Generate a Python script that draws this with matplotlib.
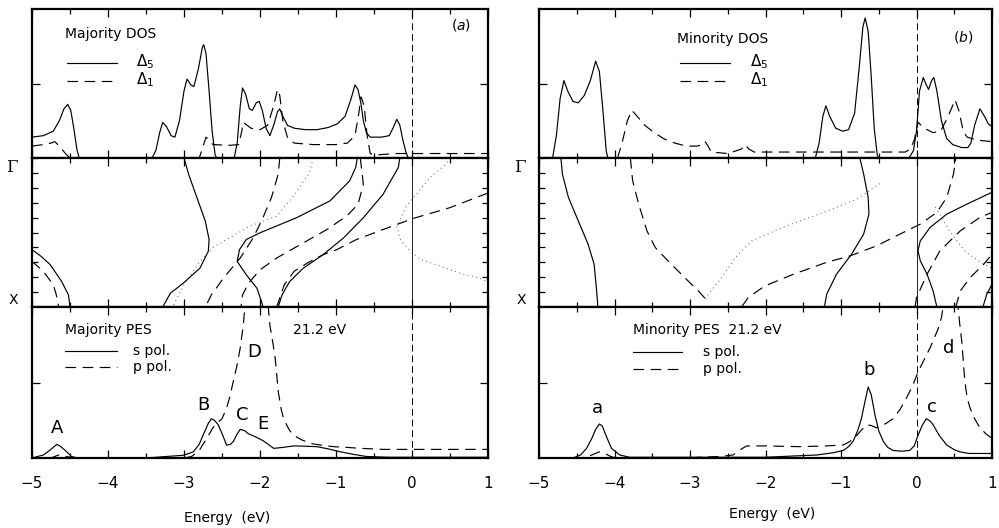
import matplotlib
matplotlib.use('Agg')
import matplotlib.pyplot as plt
from matplotlib.ticker import MultipleLocator

plt.rcParams['font.family'] = ['DejaVu Sans']
plt.rcParams['mathtext.fontset'] = 'dejavusans'

# ---------------- majority DOS (a) ----------------
maj_d5_e = [-5.00, -4.85, -4.72, -4.64, -4.58, -4.53, -4.49, -4.45, -4.41, -4.38, -3.42, -3.37, -3.32,
            -3.28, -3.23, -3.17, -3.12, -3.06, -3.00, -2.96, -2.91, -2.87, -2.81, -2.76, -2.74, -2.71,
            -2.67, -2.63, -2.59, -2.57, -2.34, -2.30, -2.26, -2.23, -2.19, -2.14, -2.10, -2.05, -2.01,
            -1.97, -1.92, -1.87, -1.82, -1.77, -1.74, -1.70, -1.64, -1.55, -1.40, -1.25, -1.10, -0.98,
            -0.88, -0.80, -0.75, -0.71, -0.67, -0.64, -0.60, -0.55, -0.40, -0.30, -0.25, -0.20, -0.16,
            -0.12, -0.08, -0.05, 1.00]
maj_d5_v = [0.14, 0.15, 0.18, 0.25, 0.33, 0.36, 0.32, 0.20, 0.06, 0.0, 0.0, 0.05, 0.17,
            0.24, 0.21, 0.15, 0.14, 0.25, 0.45, 0.53, 0.49, 0.48, 0.60, 0.74, 0.76, 0.70,
            0.45, 0.18, 0.02, 0.0, 0.0, 0.10, 0.35, 0.47, 0.43, 0.33, 0.32, 0.37, 0.38,
            0.32, 0.20, 0.15, 0.22, 0.31, 0.33, 0.28, 0.22, 0.20, 0.19, 0.19, 0.205, 0.23,
            0.28, 0.40, 0.49, 0.46, 0.36, 0.25, 0.17, 0.14, 0.14, 0.15, 0.20, 0.26, 0.22,
            0.12, 0.04, 0.0, 0.0]
maj_d1_e = [-5.00, -4.85, -4.75, -4.70, -4.64, -4.56, -4.50, -2.80, -2.76, -2.71, -2.67, -2.62, -2.40,
            -2.28, -2.24, -2.22, -2.12, -2.00, -1.90, -1.82, -1.77, -1.74, -1.70, -1.64, -1.55, -1.30,
            -1.00, -0.85, -0.75, -0.70, -0.67, -0.63, -0.59, -0.55, -0.50, -0.20, 1.00]
maj_d1_v = [0.08, 0.09, 0.10, 0.11, 0.08, 0.03, 0.0, 0.0, 0.06, 0.14, 0.12, 0.09, 0.085,
            0.09, 0.18, 0.24, 0.20, 0.19, 0.22, 0.35, 0.46, 0.42, 0.25, 0.14, 0.10, 0.09,
            0.09, 0.10, 0.15, 0.30, 0.41, 0.35, 0.15, 0.03, 0.02, 0.03, 0.03]

# ---------------- minority DOS (b) ----------------
min_d5_e = [-5.00, -4.82, -4.77, -4.72, -4.67, -4.62, -4.55, -4.48, -4.40, -4.32, -4.25, -4.20, -4.15,
            -4.11, -4.09, -1.34, -1.29, -1.24, -1.20, -1.15, -1.07, -0.98, -0.90, -0.82, -0.76, -0.71,
            -0.68, -0.64, -0.60, -0.56, -0.52, -0.50, -0.10, -0.04, 0.00, 0.04, 0.09, 0.13, 0.16,
            0.20, 0.23, 0.27, 0.33, 0.40, 0.48, 0.60, 0.68, 0.72, 0.77, 0.84, 0.90, 0.95, 1.00]
min_d5_v = [0.0, 0.0, 0.15, 0.40, 0.52, 0.45, 0.38, 0.37, 0.42, 0.52, 0.65, 0.58, 0.30,
            0.05, 0.0, 0.0, 0.10, 0.28, 0.35, 0.28, 0.20, 0.18, 0.19, 0.30, 0.60, 0.88,
            0.94, 0.85, 0.55, 0.20, 0.02, 0.0, 0.0, 0.05, 0.18, 0.45, 0.54, 0.49, 0.46,
            0.52, 0.54, 0.45, 0.25, 0.13, 0.09, 0.07, 0.07, 0.10, 0.22, 0.33, 0.28, 0.23, 0.21]
min_d1_e = [-3.96, -3.90, -3.83, -3.77, -3.70, -3.60, -3.50, -3.35, -3.20, -3.05, -2.90, -2.84, -2.80,
            -2.76, -2.72, -2.50, -2.32, -2.27, -2.22, -2.15, -0.15, -0.08, -0.03, 0.00, 0.02, 0.06,
            0.14, 0.22, 0.32, 0.42, 0.51, 0.56, 0.62, 0.67, 0.80, 1.00]
min_d1_v = [0.0, 0.10, 0.25, 0.32, 0.28, 0.22, 0.18, 0.13, 0.10, 0.08, 0.08, 0.09, 0.11,
            0.08, 0.04, 0.03, 0.06, 0.09, 0.06, 0.04, 0.04, 0.06, 0.12, 0.19, 0.24, 0.22,
            0.19, 0.17, 0.18, 0.28, 0.39, 0.32, 0.18, 0.14, 0.12, 0.11]

# ---------------- majority bands (k: 0 = Gamma, 1 = X) ----------------
maj_s1_e = [-3.00, -2.94, -2.83, -2.72, -2.67, -2.68, -2.79, -3.01, -3.18, -3.28]
maj_s1_k = [0.0, 0.108, 0.266, 0.423, 0.547, 0.626, 0.739, 0.840, 0.908, 1.0]
maj_b1_e = [-1.74, -1.76, -1.85, -1.98, -2.09, -2.26, -2.48, -2.64, -2.72]
maj_b1_k = [0.0, 0.108, 0.266, 0.423, 0.536, 0.671, 0.806, 0.919, 1.0]
maj_s2_e = [-0.72, -0.74, -0.82, -1.08, -1.52, -2.00, -2.18, -2.27, -2.30, -2.18, -2.04, -1.98, -1.96]
maj_s2_k = [0.0, 0.063, 0.153, 0.288, 0.401, 0.502, 0.547, 0.615, 0.694, 0.784, 0.874, 0.964, 1.0]
maj_b2_e = [-0.68, -0.64, -0.71, -0.86, -1.12, -1.47, -1.78, -2.00, -2.15, -2.23, -2.25]
maj_b2_k = [0.0, 0.176, 0.311, 0.390, 0.480, 0.581, 0.671, 0.750, 0.840, 0.919, 1.0]
maj_s3_e = [-0.16, -0.18, -0.38, -0.64, -0.90, -1.17, -1.43, -1.61, -1.71, -1.76]
maj_s3_k = [0.0, 0.063, 0.243, 0.401, 0.536, 0.649, 0.739, 0.829, 0.919, 1.0]
maj_b3_e = [1.00, 0.50, 0.02, -0.38, -0.73, -0.99, -1.17, -1.36, -1.55, -1.68, -1.74, -1.78]
maj_b3_k = [0.235, 0.333, 0.405, 0.480, 0.547, 0.615, 0.649, 0.700, 0.760, 0.850, 0.940, 1.0]
maj_s4_e = [-5.00, -4.88, -4.76, -4.61, -4.52, -4.50]
maj_s4_k = [0.615, 0.660, 0.716, 0.829, 0.919, 1.0]
maj_b4_e = [-5.00, -4.85, -4.72, -4.68, -4.65]
maj_b4_k = [0.694, 0.761, 0.851, 0.919, 1.0]
maj_p1_e = [-1.30, -1.35, -1.55, -1.78, -2.13, -2.44, -2.62, -2.80, -3.00, -3.15]
maj_p1_k = [0.0, 0.10, 0.25, 0.39, 0.457, 0.547, 0.60, 0.70, 0.85, 1.0]
maj_p2_e = [0.50, 0.43, 0.24, 0.11, -0.07, -0.20, -0.15, -0.05, 0.11, 0.37, 0.67, 0.85, 1.00]
maj_p2_k = [0.0, 0.05, 0.13, 0.21, 0.32, 0.46, 0.55, 0.61, 0.68, 0.725, 0.78, 0.80, 0.83]

# ---------------- minority bands ----------------
min_s1_e = [-4.71, -4.69, -4.61, -4.48, -4.35, -4.27, -4.24, -4.22]
min_s1_k = [0.0, 0.108, 0.265, 0.422, 0.578, 0.713, 0.870, 1.0]
min_b1_e = [-3.79, -3.76, -3.68, -3.57, -3.46, -3.29, -3.07, -2.89, -2.79]
min_b1_k = [0.0, 0.152, 0.309, 0.489, 0.601, 0.691, 0.803, 0.892, 0.948]
min_p1_e = [-2.79, -2.76, -2.58, -2.40, -2.18, -1.72, -1.41, -1.06, -0.79, -0.48]
min_p1_k = [0.948, 0.915, 0.803, 0.668, 0.556, 0.455, 0.399, 0.332, 0.276, 0.17]
min_b2_e = [-2.31, -2.23, -2.01, -1.63, -1.19, -0.88, -0.53, -0.22, 0.05, 0.27, 0.40, 0.49, 0.52]
min_b2_k = [0.995, 0.937, 0.859, 0.78, 0.70, 0.657, 0.59, 0.511, 0.444, 0.365, 0.265, 0.108, 0.0]
min_s2_e = [-0.75, -0.70, -0.64, -0.63, -0.70, -0.86, -1.06, -1.19, -1.22]
min_s2_k = [0.0, 0.108, 0.265, 0.377, 0.511, 0.646, 0.78, 0.915, 1.0]
min_s3_e = [1.00, 0.67, 0.40, 0.18, 0.05, 0.02, 0.05, 0.14, 0.22, 0.27]
min_s3_k = [0.23, 0.309, 0.377, 0.466, 0.556, 0.623, 0.69, 0.78, 0.892, 1.0]
min_b3_e = [-0.02, 0.00, 0.14, 0.31, 0.58, 0.84, 1.00]
min_b3_k = [1.0, 0.937, 0.78, 0.623, 0.489, 0.399, 0.365]
min_b4_e = [0.52, 0.58, 0.71, 0.89, 1.00]
min_b4_k = [1.0, 0.892, 0.803, 0.713, 0.646]
min_s4_e = [0.88, 0.93, 1.00]
min_s4_k = [1.0, 0.915, 0.848]
min_p2_e = [0.25, 0.45, 0.65, 0.85, 1.00]
min_p2_k = [0.33, 0.50, 0.63, 0.70, 0.74]

# ---------------- majority PES ----------------
maj_s_e = [-5.0, -4.85, -4.76, -4.70, -4.67, -4.62, -4.57, -4.48, -4.40, -3.5, -3.23, -3.01, -2.88, -2.80,
           -2.75, -2.68, -2.64, -2.60, -2.55, -2.49, -2.44, -2.39, -2.35, -2.30, -2.26, -2.20, -2.15, -2.08,
           -2.02, -1.96, -1.91, -1.82, -1.70, -1.56, -1.40, -1.25, -1.10, -0.95, -0.78, -0.60, -0.30, 1.0]
maj_s_v = [0.0, 0.02, 0.053, 0.08, 0.09, 0.075, 0.053, 0.01, 0.0, 0.0, 0.01, 0.018, 0.04, 0.09,
           0.15, 0.23, 0.26, 0.25, 0.22, 0.15, 0.085, 0.09, 0.11, 0.16, 0.19, 0.18, 0.16, 0.145,
           0.13, 0.115, 0.097, 0.064, 0.07, 0.08, 0.078, 0.075, 0.06, 0.042, 0.025, 0.01, 0.005, 0.005]
maj_p_e = [-5.0, -4.75, -4.65, -4.55, -4.45, -3.0, -2.90, -2.80, -2.70, -2.62, -2.57, -2.50, -2.44, -2.40,
           -2.35, -2.30, -2.26, -2.22, -2.19, -1.90, -1.87, -1.83, -1.80, -1.76, -1.72, -1.69, -1.62, -1.56,
           -1.45, -1.34, -1.20, -1.03, -0.85, -0.68, -0.38, 0.0, 1.0]
maj_p_v = [0.0, 0.0, 0.02, 0.01, 0.0, 0.0, 0.01, 0.05, 0.13, 0.20, 0.23, 0.26, 0.33, 0.40,
           0.51, 0.62, 0.73, 0.88, 1.05, 1.05, 0.88, 0.76, 0.66, 0.44, 0.32, 0.26, 0.19, 0.15,
           0.12, 0.097, 0.085, 0.075, 0.07, 0.064, 0.057, 0.057, 0.057]

# ---------------- minority PES ----------------
min_s_e = [-5.0, -4.55, -4.45, -4.37, -4.30, -4.25, -4.20, -4.16, -4.13, -4.08, -4.04, -3.93, -3.80, -2.0,
           -1.32, -1.10, -0.97, -0.90, -0.84, -0.78, -0.73, -0.68, -0.64, -0.60, -0.55, -0.50, -0.44, -0.38,
           -0.31, -0.20, -0.09, -0.03, 0.02, 0.08, 0.13, 0.18, 0.22, 0.30, 0.40, 0.50, 0.58, 0.70, 0.84, 1.0]
min_s_v = [0.0, 0.0, 0.02, 0.064, 0.13, 0.19, 0.225, 0.21, 0.17, 0.11, 0.064, 0.02, 0.005, 0.005,
           0.02, 0.035, 0.05, 0.075, 0.11, 0.18, 0.26, 0.38, 0.47, 0.42, 0.285, 0.18, 0.11, 0.07,
           0.05, 0.045, 0.05, 0.08, 0.15, 0.22, 0.26, 0.245, 0.22, 0.15, 0.086, 0.055, 0.04, 0.03, 0.03, 0.03]
min_p_e = [-5.0, -4.45, -4.35, -4.25, -4.21, -4.15, -4.05, -3.98, -3.0, -2.87, -2.60, -2.43, -2.35, -2.25,
           -2.0, -1.54, -1.20, -0.97, -0.88, -0.79, -0.72, -0.66, -0.60, -0.53, -0.48, -0.40, -0.31, -0.22,
           -0.13, -0.05, 0.02, 0.10, 0.18, 0.24, 0.29, 0.33, 0.37, 0.54, 0.57, 0.60, 0.64, 0.67, 0.71,
           0.77, 0.84, 0.92, 1.0]
min_p_v = [0.0, 0.0, 0.01, 0.03, 0.04, 0.035, 0.01, 0.0, 0.0, 0.005, 0.01, 0.02, 0.05, 0.08,
           0.08, 0.075, 0.08, 0.086, 0.11, 0.15, 0.19, 0.22, 0.215, 0.20, 0.21, 0.23, 0.26, 0.32,
           0.40, 0.48, 0.57, 0.65, 0.73, 0.80, 0.86, 0.93, 1.05, 1.05, 0.90, 0.77, 0.51, 0.40, 0.33,
           0.26, 0.20, 0.16, 0.13]

LW = 0.85
DASH = (9, 5.5)
DOT = (0, (1, 3.5))


def solid(ax, x, y):
    ax.plot(x, y, color='black', lw=LW)


def dashed(ax, x, y):
    ax.plot(x, y, color='black', lw=LW, dashes=DASH)


def dotted(ax, x, y):
    ax.plot(x, y, color='#555555', lw=0.7, linestyle=DOT)


def frame(ax, band=False):
    ax.set_xlim(-5, 1)
    ax.xaxis.set_major_locator(MultipleLocator(1))
    ax.xaxis.set_minor_locator(MultipleLocator(0.5))
    if band:
        ax.set_ylim(1, 0)
        ax.yaxis.set_major_locator(MultipleLocator(0.1))
        ax.yaxis.set_minor_locator(MultipleLocator(0.1))
    else:
        ax.set_ylim(0, 1)
        ax.set_yticks([0.5])
    ax.tick_params(which='both', direction='in', top=True, right=True,
                   labelbottom=False, labelleft=False, width=0.9)
    ax.tick_params(which='major', length=6)
    ax.tick_params(which='minor', length=3.5)
    if band:
        ax.tick_params(axis='y', which='major', length=4)
    for s in ax.spines.values():
        s.set_linewidth(1.6)


fig = plt.figure(figsize=(9.99, 5.28), dpi=100)

cols = [(32 / 999, 456 / 999), (539 / 999, 453 / 999)]
rows = [(1 - 158 / 528, 149 / 528), (1 - 307 / 528, 149 / 528), (1 - 458 / 528, 151 / 528)]

axes = []
for x0, w in cols:
    col = []
    for y0, h in rows:
        col.append(fig.add_axes([x0, y0, w, h]))
    axes.append(col)

(aD, aB, aP), (bD, bB, bP) = axes
for ax in (aD, aP, bD, bP):
    frame(ax)
for ax in (aB, bB):
    frame(ax, band=True)

# Fermi level
for ax in (aD, aP, bD, bP):
    ax.axvline(0, color='black', lw=0.7, dashes=(7, 4))
for ax in (aB, bB):
    ax.axvline(0, color='black', lw=0.6)

# ---- DOS panels
solid(aD, maj_d5_e, maj_d5_v)
dashed(aD, maj_d1_e, maj_d1_v)
solid(bD, min_d5_e, min_d5_v)
dashed(bD, min_d1_e, min_d1_v)

fs = 10
dfs = 11
aD.text(-4.57, 0.83, 'Majority DOS', fontsize=fs, va='center')
aD.plot([-4.54, -3.88], [0.64, 0.64], color='black', lw=LW)
aD.plot([-4.54, -3.88], [0.52, 0.52], color='black', lw=LW, dashes=DASH)
aD.text(-3.63, 0.615, r'$\Delta_5$', fontsize=dfs, va='baseline')
aD.text(-3.63, 0.495, r'$\Delta_1$', fontsize=dfs, va='baseline')
aD.text(0.78, 0.89, '($a$)', fontsize=fs, va='center', ha='right')

bD.text(-3.17, 0.80, 'Minority DOS', fontsize=fs, va='center')
bD.plot([-3.13, -2.47], [0.64, 0.64], color='black', lw=LW)
bD.plot([-3.13, -2.47], [0.52, 0.52], color='black', lw=LW, dashes=DASH)
bD.text(-2.21, 0.615, r'$\Delta_5$', fontsize=dfs, va='baseline')
bD.text(-2.21, 0.495, r'$\Delta_1$', fontsize=dfs, va='baseline')
bD.text(0.75, 0.81, '($b$)', fontsize=fs, va='center', ha='right')

# ---- band panels
for e, k in [(maj_s1_e, maj_s1_k), (maj_s2_e, maj_s2_k), (maj_s3_e, maj_s3_k), (maj_s4_e, maj_s4_k)]:
    solid(aB, e, k)
for e, k in [(maj_b1_e, maj_b1_k), (maj_b2_e, maj_b2_k), (maj_b3_e, maj_b3_k), (maj_b4_e, maj_b4_k)]:
    dashed(aB, e, k)
for e, k in [(maj_p1_e, maj_p1_k), (maj_p2_e, maj_p2_k)]:
    dotted(aB, e, k)

for e, k in [(min_s1_e, min_s1_k), (min_s2_e, min_s2_k), (min_s3_e, min_s3_k), (min_s4_e, min_s4_k)]:
    solid(bB, e, k)
for e, k in [(min_b1_e, min_b1_k), (min_b2_e, min_b2_k), (min_b3_e, min_b3_k), (min_b4_e, min_b4_k)]:
    dashed(bB, e, k)
for e, k in [(min_p1_e, min_p1_k), (min_p2_e, min_p2_k)]:
    dotted(bB, e, k)

for xpx in (12, 520):
    fig.text(xpx / 999, 1 - 168 / 528, 'Γ', fontsize=12, family='DejaVu Serif', ha='center', va='center')
    fig.text((xpx + 1) / 999, 1 - 300 / 528, 'X', fontsize=10, ha='center', va='center')

# ---- PES panels
solid(aP, maj_s_e, maj_s_v)
dashed(aP, maj_p_e, maj_p_v)
solid(bP, min_s_e, min_s_v)
dashed(bP, min_p_e, min_p_v)

aP.text(-4.57, 0.85, 'Majority PES', fontsize=fs, va='center')
aP.plot([-4.57, -3.88], [0.71, 0.71], color='black', lw=LW)
aP.plot([-4.57, -3.88], [0.60, 0.60], color='black', lw=LW, dashes=DASH)
aP.text(-3.67, 0.71, 's pol.', fontsize=fs, va='center')
aP.text(-3.67, 0.60, 'p pol.', fontsize=fs, va='center')
aP.text(-1.57, 0.85, '21.2 eV', fontsize=fs, va='center')
lfs = 13
for lab, x, y in [('D', -2.07, 0.70), ('B', -2.75, 0.35), ('C', -2.24, 0.285),
                  ('E', -1.96, 0.225), ('A', -4.67, 0.20)]:
    aP.text(x, y, lab, fontsize=lfs, ha='center', va='center')

bP.text(-3.75, 0.85, 'Minority PES  21.2 eV', fontsize=fs, va='center')
bP.plot([-3.75, -3.11], [0.70, 0.70], color='black', lw=LW)
bP.plot([-3.75, -3.11], [0.59, 0.59], color='black', lw=LW, dashes=DASH)
bP.text(-2.83, 0.70, 's pol.', fontsize=fs, va='center')
bP.text(-2.83, 0.59, 'p pol.', fontsize=fs, va='center')
for lab, x, y in [('a', -4.22, 0.33), ('b', -0.63, 0.58), ('c', 0.21, 0.34), ('d', 0.42, 0.73)]:
    bP.text(x, y, lab, fontsize=lfs, ha='center', va='center')

for ax in (aP, bP):
    ax.tick_params(labelbottom=True, labelsize=11, pad=13)

fig.text(227 / 999, 1 - 518 / 528, 'Energy  (eV)', fontsize=10, ha='center', va='center')
fig.text(772 / 999, 1 - 514 / 528, 'Energy  (eV)', fontsize=10, ha='center', va='center')

fig.savefig('out.png', dpi=100)
